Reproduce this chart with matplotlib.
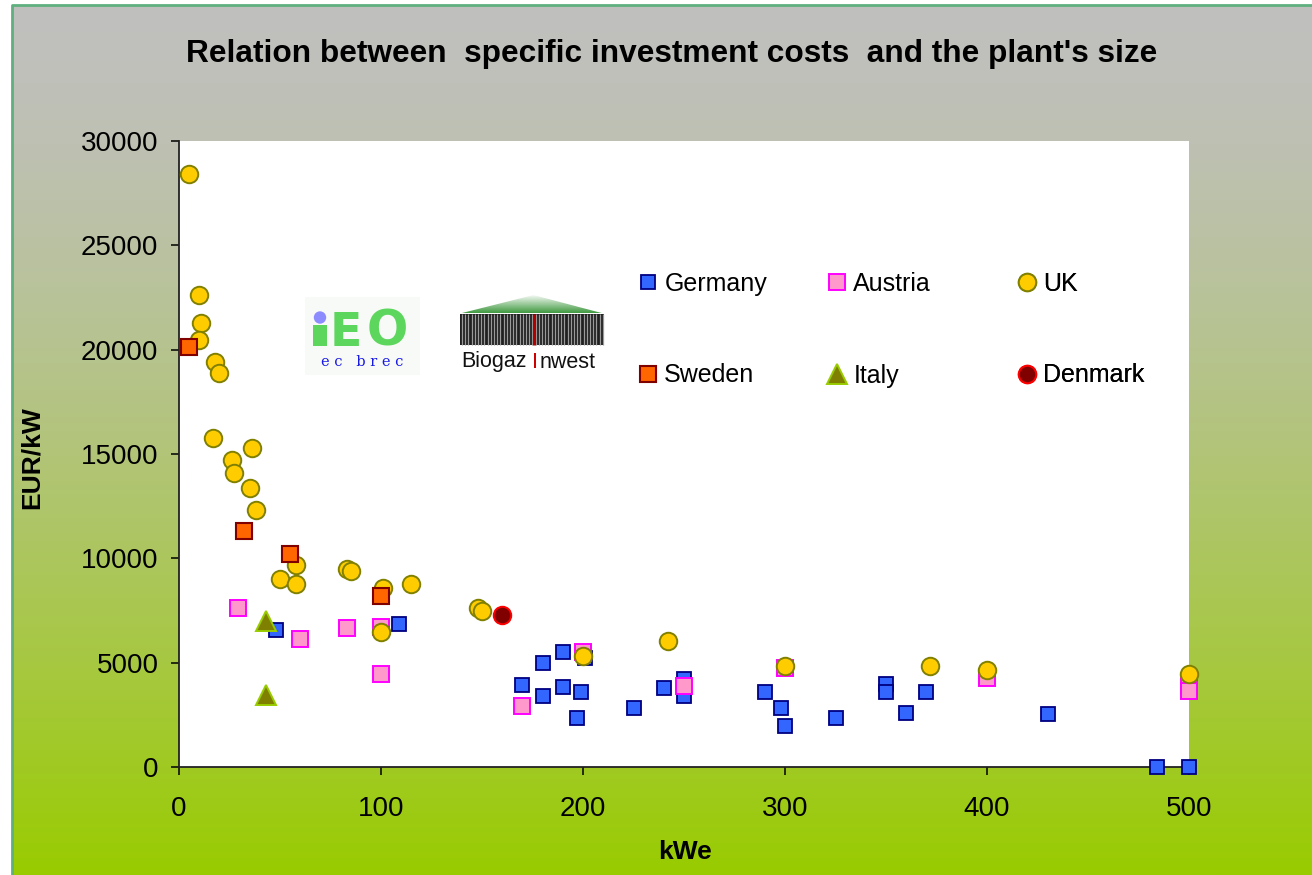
import numpy as np
import matplotlib
matplotlib.use("Agg")
import matplotlib.pyplot as plt
from matplotlib.patches import Polygon, Rectangle, Circle

plt.rcParams['font.family'] = ['Liberation Sans', 'DejaVu Sans']

# --- DATA (kWe, EUR/kW) ---
germany_x = [48, 109, 170, 180, 180, 190, 190, 201, 199, 197, 225, 240, 250, 250,
             290, 298, 300, 325, 350, 350, 360, 370, 430, 484, 500]
germany_y = [6550, 6850, 3950, 5000, 3400, 5500, 3850, 5200, 3600, 2350, 2850, 3800, 4200, 3400,
             3600, 2850, 1980, 2350, 4000, 3600, 2600, 3600, 2550, 0, 0]

austria_x = [29, 60, 83, 100, 100, 170, 200, 250, 300, 400, 500, 500]
austria_y = [7600, 6150, 6650, 6700, 4450, 2900, 5500, 3900, 4750, 4250, 3900, 3650]

uk_x = [5, 10, 11, 10, 18, 20, 17, 36, 26, 27, 35, 38, 58, 50, 58, 83, 85, 101, 115, 100,
        148, 150, 200, 242, 300, 372, 400, 500]
uk_y = [28400, 22600, 21300, 20450, 19400, 18900, 15750, 15270, 14700, 14100, 13350, 12300,
        9700, 9000, 8750, 9500, 9400, 8600, 8750, 6450, 7600, 7500, 5300, 6050, 4850, 4850,
        4650, 4450]

sweden_x = [5, 32, 55, 100]
sweden_y = [20150, 11300, 10200, 8200]

italy_x = [43, 43]
italy_y = [7000, 3450]

denmark_x = [160]
denmark_y = [7300]

x_ticks = [0, 100, 200, 300, 400, 500]
y_ticks = [0, 5000, 10000, 15000, 20000, 25000, 30000]

W, H = 1312, 875
fig = plt.figure(figsize=(W / 100, H / 100), dpi=100, facecolor='white')

# background gradient (grey -> green), framed at left/top
bg = fig.add_axes([0, 0, 1, 1], zorder=0)
bg.set_xlim(0, W)
bg.set_ylim(H, 0)
bg.axis('off')
t = np.linspace(0, 1, 256) ** 1.5
top = np.array([192, 192, 190]) / 255
bot = np.array([153, 204, 0]) / 255
grad = (top[None, :] * (1 - t[:, None]) + bot[None, :] * t[:, None])[:, None, :]
bg.imshow(grad, extent=(12, W, H, 5), aspect='auto', interpolation='bilinear')
bg.plot([12, 12, W], [H, 5, 5], color='#5FAF7F', lw=2)

# main axes
ax = fig.add_axes([179 / W, 1 - 767 / H, (1189 - 179) / W, (767 - 141) / H], zorder=2)
ax.set_facecolor('white')

ax.plot(germany_x, germany_y, 's', ms=9.8, mfc='#3366FF', mec='#000080', mew=1.3,
        ls='none', clip_on=False, zorder=3, label='Germany')
ax.plot(austria_x, austria_y, 's', ms=12.2, mfc='#FF99CC', mec='#FF00FF', mew=1.4,
        ls='none', clip_on=False, zorder=4, label='Austria')
ax.plot(uk_x, uk_y, 'o', ms=12.6, mfc='#FFCC00', mec='#808000', mew=1.4,
        ls='none', clip_on=False, zorder=5, label='UK')
ax.plot(sweden_x, sweden_y, 's', ms=12.2, mfc='#FF6600', mec='#800000', mew=1.5,
        ls='none', clip_on=False, zorder=6, label='Sweden')
ax.plot(italy_x, italy_y, '^', ms=14, mfc='#808000', mec='#99CC00', mew=1.4,
        ls='none', clip_on=False, zorder=7, label='Italy')
ax.plot(denmark_x, denmark_y, 'o', ms=12.6, mfc='#800000', mec='#FF0000', mew=1.4,
        ls='none', clip_on=False, zorder=8, label='Denmark')

ax.set_xlim(0, 500)
ax.set_ylim(0, 30000)
ax.set_xticks(x_ticks)
ax.set_yticks(y_ticks)
for s in ['top', 'right']:
    ax.spines[s].set_visible(False)
for s in ['left', 'bottom']:
    ax.spines[s].set_linewidth(1.3)
    ax.spines[s].set_color('#222222')
ax.tick_params(axis='both', direction='out', length=5.8, width=1.1, labelsize=20)
ax.tick_params(axis='y', pad=9)
ax.tick_params(axis='x', pad=15)

ax.set_ylabel('EUR/kW', fontsize=19, fontweight='bold', va='center')
ax.yaxis.set_label_coords((32 - 179) / 1010, (767 - 458) / 626)
ax.set_xlabel('kWe', fontsize=19, fontweight='bold', va='center')
ax.xaxis.set_label_coords((685 - 179) / 1010, (767 - 852) / 626)

fig.text(672 / W, 1 - 54 / H, "Relation between  specific investment costs  and the plant's size",
         ha='center', va='center', fontsize=22.8, fontweight='bold')

# legend: three fixed-width columns, like the spreadsheet legend
handles, labels = ax.get_legend_handles_labels()
columns = [(0, 3), (1, 4), (2, 5)]
col_x = [648, 837, 1027]
for (a, b), cx in zip(columns, col_x):
    leg = ax.legend([handles[a], handles[b]], [labels[a], labels[b]],
                    loc='upper left', bbox_to_anchor=((cx - 10) / W, 1 - 272 / H),
                    bbox_transform=fig.transFigure, frameon=False, fontsize=18,
                    handlelength=0.8, handletextpad=0.25, labelspacing=2.7,
                    borderpad=0, borderaxespad=0)
    ax.add_artist(leg)

# logos (overlay)
ov = fig.add_axes([0, 0, 1, 1], zorder=5)
ov.set_xlim(0, W)
ov.set_ylim(H, 0)
ov.axis('off')
ov.patch.set_alpha(0)

# IEO ec brec
ov.add_patch(Rectangle((305, 297), 115, 78, facecolor='#F7FAF7', edgecolor='none'))
ov.add_patch(Rectangle((313, 325), 14, 21, facecolor='#5CD65C', edgecolor='none'))
ov.add_patch(Circle((320, 317.5), 6.2, facecolor='#8C8CFF', edgecolor='none'))
ov.text(330, 346, 'E', fontsize=34, fontweight='bold', color='#5CD65C',
        family='DejaVu Sans', ha='left', va='baseline')
ov.text(367, 346, 'O', fontsize=35, fontweight='bold', color='#5CD65C',
        family='DejaVu Sans', ha='left', va='baseline')
ov.text(362, 362.5, 'e c   b r e c', fontsize=10.5, color='#1A1AE6',
        family='DejaVu Serif', ha='center', va='center')

# Biogaz Inwest
roof = Polygon([(460, 313.5), (533.5, 295), (603.5, 313.5)], closed=True,
               facecolor='none', edgecolor='none')
ov.add_patch(roof)
rg = np.linspace(0, 1, 64)[:, None, None] * (np.array([0.25, 0.6, 0.25]) - 1) + 1
ov.imshow(rg, extent=(460, 604, 313.5, 295), aspect='auto', interpolation='bilinear',
          clip_path=roof, zorder=2)
ov.add_patch(Rectangle((460, 313.5), 144, 31.5, facecolor='#202020', edgecolor='none', zorder=2))
ov.vlines(np.arange(462, 603, 3.2), 314, 344.5, color='#9A9A9A', lw=0.9, zorder=3)
ov.vlines([533.5], 313.5, 345, color='#B00000', lw=2.2, zorder=4)
ov.text(461, 362, 'Biogaz', fontsize=15.5, color='#111111', ha='left', va='center')
ov.text(534.5, 362, 'I', fontsize=15.5, color='#CC0000', ha='center', va='center')
ov.text(540, 362, 'nwest', fontsize=15.5, color='#111111', ha='left', va='center')

fig.savefig('out.png', dpi=100, facecolor='white')
